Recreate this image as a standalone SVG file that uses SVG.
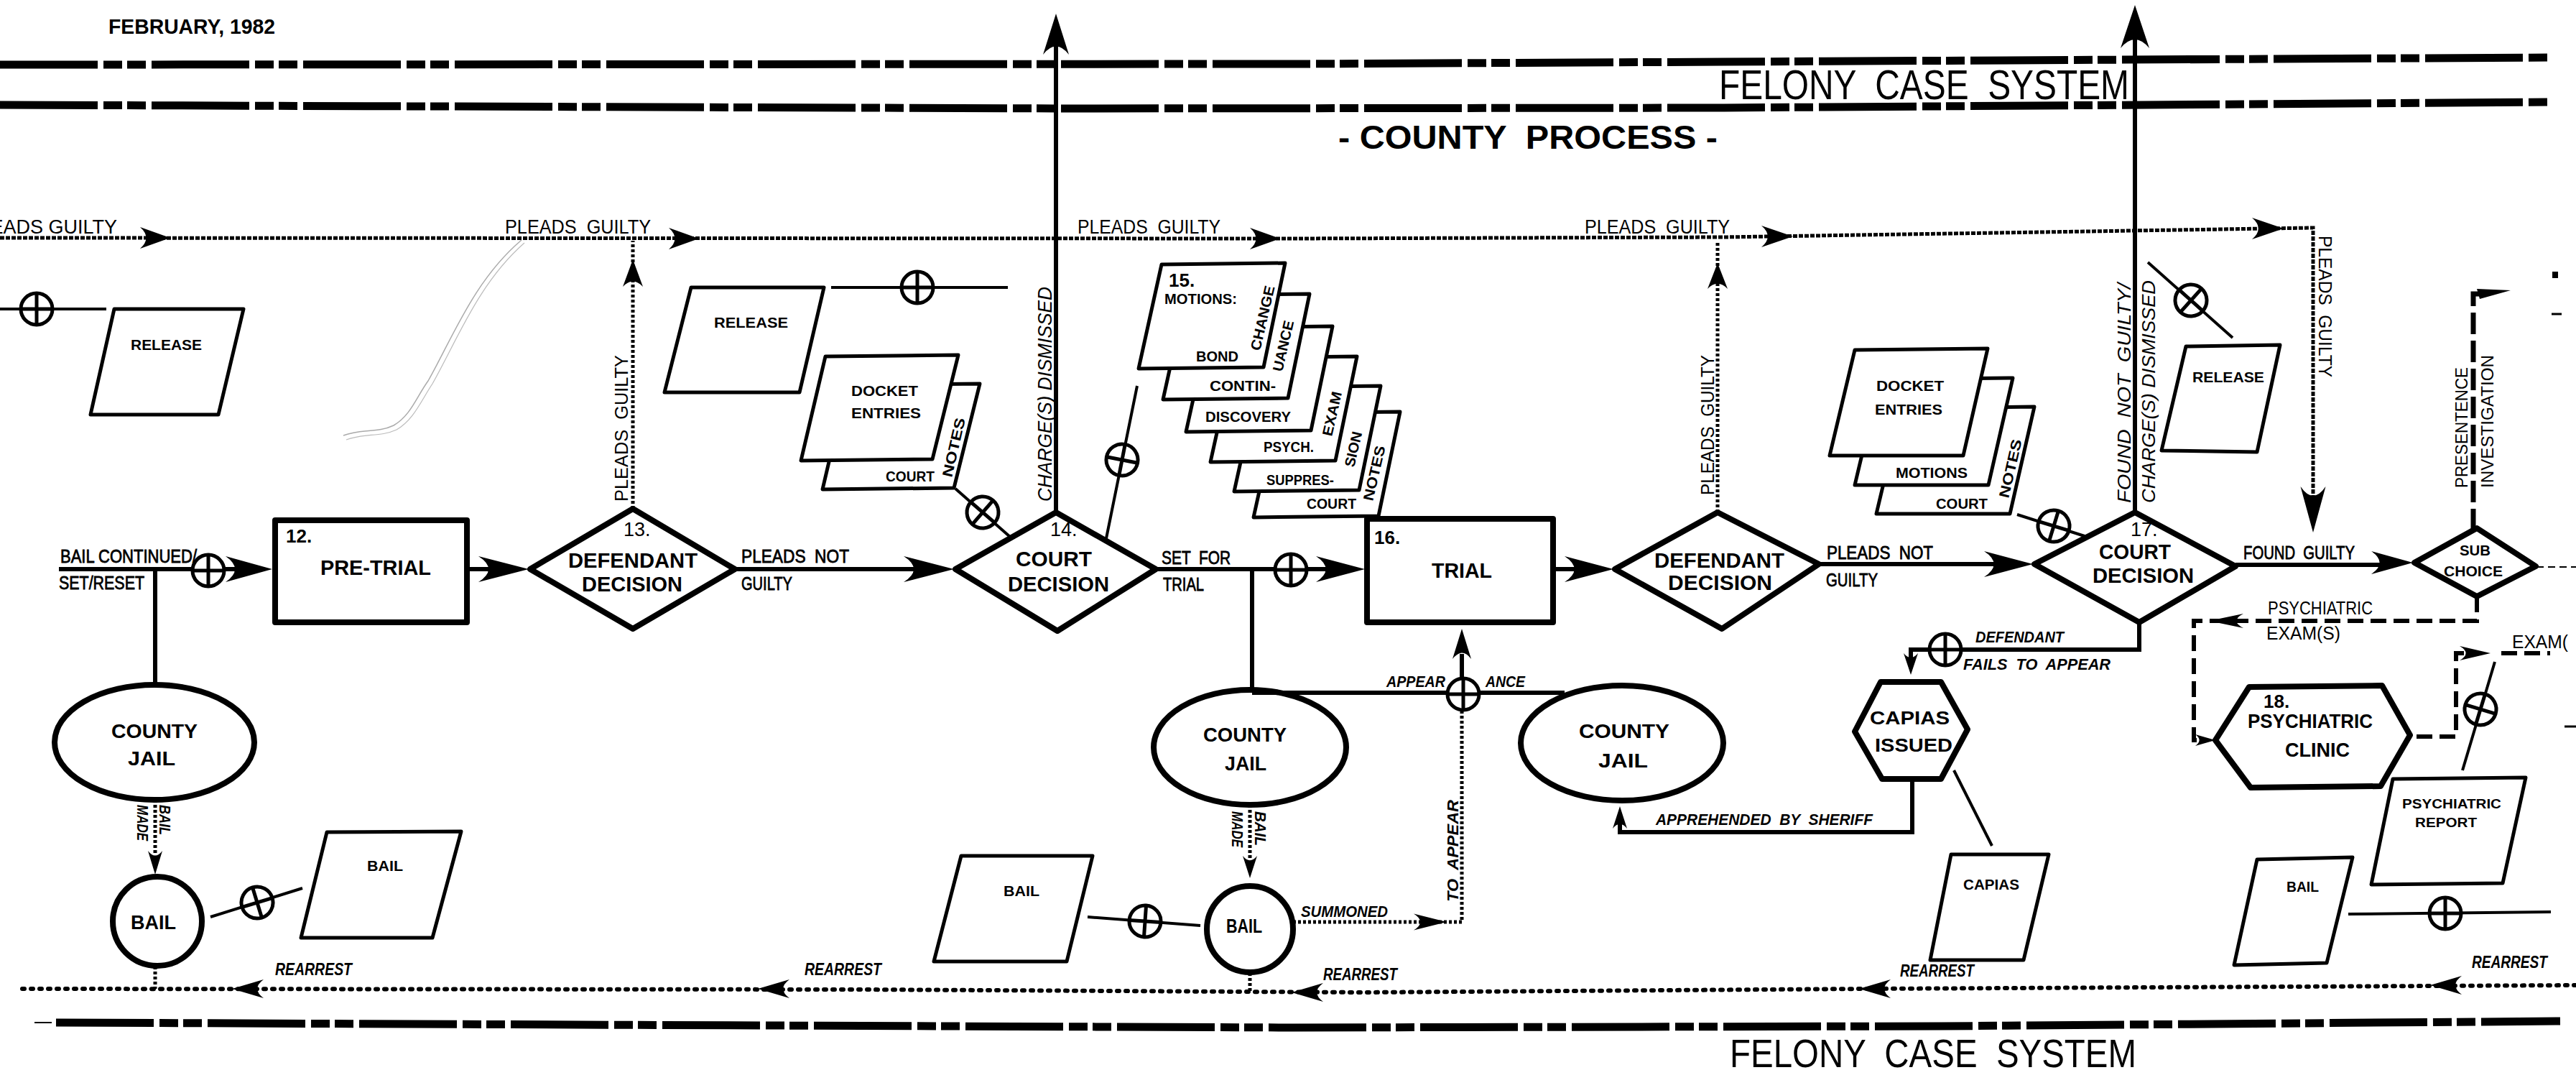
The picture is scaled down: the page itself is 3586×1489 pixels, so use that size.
<svg xmlns="http://www.w3.org/2000/svg" width="3586" height="1489" viewBox="0 0 3586 1489">
<style>
text{font-family:"Liberation Sans",Arial,sans-serif;fill:#000}
.b{font-weight:bold}
.i{font-style:italic;font-weight:bold}
.ir{font-style:italic}
.m{stroke:#000;stroke-width:0.8}
.n{fill:#fff;stroke:#000;stroke-width:8;stroke-linejoin:round}
.p{fill:#fff;stroke:#000;stroke-width:5;stroke-linejoin:round}
.s{fill:none;stroke:#000;stroke-width:6}
.t{fill:none;stroke:#000;stroke-width:4}
.dl{fill:none;stroke:#000;stroke-width:11;stroke-dasharray:136 8 26 7 26 8}
.pg{fill:none;stroke:#000;stroke-width:5;stroke-dasharray:6 2}
.dt{fill:none;stroke:#000;stroke-width:5;stroke-dasharray:4 3}
.ra{fill:none;stroke:#000;stroke-width:6;stroke-linecap:round;stroke-dasharray:3 9}
.ds{fill:none;stroke:#000;stroke-width:6;stroke-dasharray:22 10}
</style>
<defs>
<path id="ah" d="M0,0 L-1,-0.5 Q-0.6,0 -1,0.5 Z"/>
<g id="op"><circle r="22" fill="#fff" stroke="#000" stroke-width="5"/><path d="M-22,0H22M0,-22V22" stroke="#000" stroke-width="5"/></g>
</defs>
<rect width="3586" height="1489" fill="#fff"/>

<g id="frame">
<path class="dl" d="M0,90 L1800,89 L2400,86 L3552,80"/>
<path class="dl" d="M0,146 L1500,151 L2400,150 L3552,142"/>
<path class="dl" d="M78,1423 L1800,1430 L2700,1428 L3564,1421"/>
<path d="M48,1423 H72" stroke="#000" stroke-width="2"/>
<text class="b" x="151" y="47" font-size="30" textLength="232" lengthAdjust="spacingAndGlyphs">FEBRUARY, 1982</text>
<text x="2393" y="138" font-size="57" textLength="571" lengthAdjust="spacingAndGlyphs" xml:space="preserve">FELONY  CASE  SYSTEM</text>
<text class="b" x="1863" y="207" font-size="47" textLength="528" lengthAdjust="spacingAndGlyphs" xml:space="preserve">- COUNTY  PROCESS -</text>
<text x="2408" y="1485" font-size="55" textLength="566" lengthAdjust="spacingAndGlyphs" xml:space="preserve">FELONY  CASE  SYSTEM</text>
<path d="M478,606 C505,596 525,603 548,592 C572,578 580,552 596,530 C630,470 660,390 726,334" fill="none" stroke="#aaa" stroke-width="1.5"/>
<path d="M482,612 C508,602 528,609 552,598 C576,584 586,558 602,534 C636,474 666,394 730,338" fill="none" stroke="#bbb" stroke-width="1.2"/>
<rect x="3553" y="378" width="8" height="9"/>
<path d="M3552,437 H3566 M3570,1011 H3586" stroke="#000" stroke-width="3"/>
</g>

<g id="n12"><rect class="n" x="383" y="724" width="267" height="142"/>
<text class="b" x="398" y="755" font-size="26">12.</text>
<text class="b" x="446" y="800" font-size="29" textLength="154" lengthAdjust="spacingAndGlyphs">PRE-TRIAL</text></g>

<g id="n13"><polygon class="n" points="738,792 881,708 1023,792 881,875"/>
<text x="868" y="746" font-size="27">13.</text>
<text class="b" x="791" y="790" font-size="29" textLength="180" lengthAdjust="spacingAndGlyphs">DEFENDANT</text>
<text class="b" x="810" y="823" font-size="29" textLength="140" lengthAdjust="spacingAndGlyphs">DECISION</text></g>

<g id="n14"><polygon class="n" points="1330,792 1470,713 1609,792 1472,878"/>
<text x="1462" y="746" font-size="27">14.</text>
<text class="b" x="1414" y="788" font-size="30" textLength="106" lengthAdjust="spacingAndGlyphs">COURT</text>
<text class="b" x="1403" y="823" font-size="30" textLength="141" lengthAdjust="spacingAndGlyphs">DECISION</text></g>

<g id="n16"><rect class="n" x="1903" y="722" width="259" height="144"/>
<text class="b" x="1913" y="757" font-size="26">16.</text>
<text class="b" x="1993" y="804" font-size="29" textLength="84" lengthAdjust="spacingAndGlyphs">TRIAL</text></g>

<g id="n16b"><polygon class="n" points="2248,792 2391,713 2532,785 2397,875"/>
<text class="b" x="2303" y="790" font-size="29" textLength="181" lengthAdjust="spacingAndGlyphs">DEFENDANT</text>
<text class="b" x="2322" y="821" font-size="29" textLength="145" lengthAdjust="spacingAndGlyphs">DECISION</text></g>

<g id="n17"><polygon class="n" points="2832,785 2972,713 3112,788 2978,866"/>
<text x="2966" y="746" font-size="27">17.</text>
<text class="b" x="2922" y="778" font-size="30" textLength="100" lengthAdjust="spacingAndGlyphs">COURT</text>
<text class="b" x="2913" y="811" font-size="30" textLength="141" lengthAdjust="spacingAndGlyphs">DECISION</text></g>

<g id="subchoice"><polygon class="n" points="3361,783 3448,735 3530,788 3448,830" stroke-width="7"/>
<text class="b" x="3424" y="773" font-size="20" textLength="43" lengthAdjust="spacingAndGlyphs">SUB</text>
<text class="b" x="3402" y="802" font-size="20" textLength="82" lengthAdjust="spacingAndGlyphs">CHOICE</text></g>

<g id="jail1"><ellipse class="n" cx="215" cy="1033" rx="139" ry="80"/>
<text class="b" x="155" y="1027" font-size="27" textLength="120" lengthAdjust="spacingAndGlyphs">COUNTY</text>
<text class="b" x="178" y="1065" font-size="27" textLength="66" lengthAdjust="spacingAndGlyphs">JAIL</text></g>

<g id="jail2"><ellipse class="n" cx="1740" cy="1040" rx="134" ry="80"/>
<text class="b" x="1675" y="1032" font-size="27" textLength="116" lengthAdjust="spacingAndGlyphs">COUNTY</text>
<text class="b" x="1705" y="1072" font-size="27" textLength="58" lengthAdjust="spacingAndGlyphs">JAIL</text></g>

<g id="jail3"><ellipse class="n" cx="2258" cy="1034" rx="141" ry="80"/>
<text class="b" x="2198" y="1027" font-size="27" textLength="126" lengthAdjust="spacingAndGlyphs">COUNTY</text>
<text class="b" x="2225" y="1068" font-size="27" textLength="69" lengthAdjust="spacingAndGlyphs">JAIL</text></g>

<g id="bail1"><circle class="n" cx="219" cy="1282" r="62"/>
<text class="b" x="182" y="1293" font-size="28" textLength="63" lengthAdjust="spacingAndGlyphs">BAIL</text></g>

<g id="bail2"><circle class="n" cx="1740" cy="1293" r="60"/>
<text class="b" x="1707" y="1298" font-size="28" textLength="50" lengthAdjust="spacingAndGlyphs">BAIL</text></g>

<g id="capias-issued"><polygon class="n" points="2618,949 2702,949 2739,1015 2702,1084 2620,1084 2582,1018"/>
<text class="b" x="2603" y="1008" font-size="25" textLength="111" lengthAdjust="spacingAndGlyphs">CAPIAS</text>
<text class="b" x="2610" y="1046" font-size="25" textLength="108" lengthAdjust="spacingAndGlyphs">ISSUED</text></g>

<g id="n18"><polygon class="n" points="3084,1030 3131,956 3316,954 3355,1023 3314,1094 3133,1096"/>
<text class="b" x="3151" y="985" font-size="26">18.</text>
<text class="b" x="3129" y="1013" font-size="28" textLength="174" lengthAdjust="spacingAndGlyphs">PSYCHIATRIC</text>
<text class="b" x="3181" y="1053" font-size="28" textLength="90" lengthAdjust="spacingAndGlyphs">CLINIC</text></g>

<g id="release1"><polygon class="p" points="159,430 339,430 304,577 126,577"/>
<text class="b" x="182" y="487" font-size="20" textLength="99" lengthAdjust="spacingAndGlyphs">RELEASE</text></g>
<g id="release2"><polygon class="p" points="962,400 1147,400 1113,546 925,546"/>
<text class="b" x="994" y="456" font-size="20" textLength="103" lengthAdjust="spacingAndGlyphs">RELEASE</text></g>
<g id="release3"><polygon class="p" points="3043,482 3174,480 3142,629 3009,627"/>
<text class="b" x="3052" y="532" font-size="20" textLength="100" lengthAdjust="spacingAndGlyphs">RELEASE</text></g>

<g id="bailform1"><polygon class="p" points="455,1158 642,1157 602,1305 419,1305"/>
<text class="b" x="511" y="1212" font-size="20" textLength="50" lengthAdjust="spacingAndGlyphs">BAIL</text></g>
<g id="bailform2"><polygon class="p" points="1338,1191 1521,1191 1485,1338 1300,1338"/>
<text class="b" x="1397" y="1247" font-size="20" textLength="50" lengthAdjust="spacingAndGlyphs">BAIL</text></g>
<g id="bailform3"><polygon class="p" points="3142,1196 3275,1193 3239,1340 3110,1343"/>
<text class="b" x="3183" y="1241" font-size="20" textLength="45" lengthAdjust="spacingAndGlyphs">BAIL</text></g>

<g id="capias"><polygon class="p" points="2716,1189 2852,1189 2817,1336 2687,1336"/>
<text class="b" x="2733" y="1238" font-size="20" textLength="78" lengthAdjust="spacingAndGlyphs">CAPIAS</text></g>

<g id="psych-report"><polygon class="p" points="3331,1084 3516,1082 3484,1229 3301,1231"/>
<text class="b" x="3344" y="1125" font-size="18" textLength="138" lengthAdjust="spacingAndGlyphs">PSYCHIATRIC</text>
<text class="b" x="3362" y="1151" font-size="18" textLength="86" lengthAdjust="spacingAndGlyphs">REPORT</text></g>

<g id="docket1">
<polygon class="p" points="1179,536 1364,534 1328,679 1145,681"/>
<polygon class="p" points="1149,496 1334,494 1298,639 1115,641"/>
<text class="b" x="1185" y="551" font-size="20" textLength="93" lengthAdjust="spacingAndGlyphs">DOCKET</text>
<text class="b" x="1185" y="582" font-size="20" textLength="97" lengthAdjust="spacingAndGlyphs">ENTRIES</text>
<text class="b" x="1233" y="670" font-size="20" textLength="68" lengthAdjust="spacingAndGlyphs">COURT</text>
<text class="b" transform="translate(1325,665) rotate(-77)" font-size="20" textLength="84" lengthAdjust="spacingAndGlyphs">NOTES</text>
</g>

<g id="n15">
<polygon class="p" points="1777,575 1949,573 1919,718 1745,720"/>
<polygon class="p" points="1750,539 1922,537 1892,682 1718,684"/>
<polygon class="p" points="1717,498 1889,496 1859,641 1685,643"/>
<polygon class="p" points="1683,456 1855,454 1825,599 1651,601"/>
<polygon class="p" points="1651,411 1823,409 1793,554 1619,556"/>
<polygon class="p" points="1617,368 1789,366 1759,511 1585,513"/>
<text class="b" x="1627" y="399" font-size="26">15.</text>
<text class="b" x="1621" y="423" font-size="20" textLength="101" lengthAdjust="spacingAndGlyphs">MOTIONS:</text>
<text class="b" x="1665" y="503" font-size="20" textLength="59" lengthAdjust="spacingAndGlyphs">BOND</text>
<text class="b" transform="translate(1754,489) rotate(-77)" font-size="20" textLength="92" lengthAdjust="spacingAndGlyphs">CHANGE</text>
<text class="b" x="1684" y="544" font-size="20" textLength="92" lengthAdjust="spacingAndGlyphs">CONTIN-</text>
<text class="b" transform="translate(1785,518) rotate(-77)" font-size="20" textLength="72" lengthAdjust="spacingAndGlyphs">UANCE</text>
<text class="b" x="1678" y="587" font-size="20" textLength="119" lengthAdjust="spacingAndGlyphs">DISCOVERY</text>
<text class="b" x="1759" y="629" font-size="20" textLength="70" lengthAdjust="spacingAndGlyphs">PSYCH.</text>
<text class="b" transform="translate(1854,608) rotate(-77)" font-size="20" textLength="63" lengthAdjust="spacingAndGlyphs">EXAM</text>
<text class="b" x="1763" y="675" font-size="20" textLength="94" lengthAdjust="spacingAndGlyphs">SUPPRES-</text>
<text class="b" transform="translate(1885,651) rotate(-77)" font-size="20" textLength="50" lengthAdjust="spacingAndGlyphs">SION</text>
<text class="b" x="1819" y="708" font-size="20" textLength="69" lengthAdjust="spacingAndGlyphs">COURT</text>
<text class="b" transform="translate(1911,698) rotate(-77)" font-size="20" textLength="78" lengthAdjust="spacingAndGlyphs">NOTES</text>
</g>

<g id="docket2">
<polygon class="p" points="2647,568 2832,566 2798,715 2612,715"/>
<polygon class="p" points="2617,528 2802,526 2768,675 2582,675"/>
<polygon class="p" points="2582,487 2767,485 2733,634 2547,634"/>
<text class="b" x="2612" y="544" font-size="20" textLength="94" lengthAdjust="spacingAndGlyphs">DOCKET</text>
<text class="b" x="2610" y="577" font-size="20" textLength="94" lengthAdjust="spacingAndGlyphs">ENTRIES</text>
<text class="b" x="2639" y="665" font-size="20" textLength="100" lengthAdjust="spacingAndGlyphs">MOTIONS</text>
<text class="b" x="2695" y="708" font-size="20" textLength="72" lengthAdjust="spacingAndGlyphs">COURT</text>
<text class="b" transform="translate(2796,694) rotate(-77)" font-size="20" textLength="83" lengthAdjust="spacingAndGlyphs">NOTES</text>
</g>

<g id="connectors">
<path class="pg" d="M0,331 L1800,332 L2400,330 L3220,317 L3220,690"/>
<use href="#ah" transform="translate(237,331) scale(42,30)"/>
<use href="#ah" transform="translate(973,332) scale(42,30)"/>
<use href="#ah" transform="translate(1782,332) scale(42,30)"/>
<use href="#ah" transform="translate(2496,329) scale(44,30)"/>
<use href="#ah" transform="translate(3179,318) scale(44,30)"/>
<use href="#ah" transform="translate(3220,741) rotate(90) scale(64,35)"/>
<path class="dt" d="M881,708 V335"/>
<use href="#ah" transform="translate(881,361) rotate(-90) scale(38,28)"/>
<path class="dt" d="M2391,713 V335"/>
<use href="#ah" transform="translate(2391,366) rotate(-90) scale(36,28)"/>
<path class="s" d="M1470,713 V60"/>
<use href="#ah" transform="translate(1470,19) rotate(-90) scale(57,36)"/>
<path class="s" d="M2972,713 V50"/>
<use href="#ah" transform="translate(2972,7) rotate(-90) scale(60,40)"/>

<path class="s" d="M82,792 H340"/>
<path class="s" d="M216,792 V954"/>
<use href="#op" transform="translate(290,794)"/>
<use href="#ah" transform="translate(379,792) scale(65,36)"/>
<path class="s" d="M650,792 H710"/>
<use href="#ah" transform="translate(736,792) scale(70,36)"/>
<path class="s" d="M1023,792 H1290"/>
<use href="#ah" transform="translate(1328,792) scale(70,36)"/>
<path class="s" d="M1609,792 H1860"/>
<use href="#op" transform="translate(1797,793)"/>
<use href="#ah" transform="translate(1900,792) scale(68,36)"/>
<path class="s" d="M2162,792 H2210"/>
<use href="#ah" transform="translate(2246,792) scale(68,36)"/>
<path class="s" d="M2532,785 H2790"/>
<use href="#ah" transform="translate(2830,785) scale(68,36)"/>
<path class="s" d="M3112,786 H3320"/>
<use href="#ah" transform="translate(3359,783) scale(58,32)"/>

<path class="s" d="M1743,792 V961"/>
<path class="s" d="M1743,964 H2178"/>
<use href="#op" transform="translate(2037,966)"/>
<path class="s" d="M2035,944 V910"/>
<use href="#ah" transform="translate(2035,875) rotate(-90) scale(42,26)"/>

<path class="dt" d="M216,1113 V1190"/>
<use href="#ah" transform="translate(216,1217) rotate(90) scale(33,20)"/>
<path class="dt" d="M1740,1120 V1195"/>
<use href="#ah" transform="translate(1740,1222) rotate(90) scale(31,20)"/>
<path class="dt" d="M216,1345 V1376"/>
<path class="dt" d="M1740,1354 V1380"/>
<path class="dt" d="M1800,1283 H2035 V990"/>
<use href="#ah" transform="translate(2014,1283) scale(46,23)"/>

<path class="ra" d="M31,1376 L1200,1377 L1900,1381 L2600,1376 L3586,1371"/>
<use href="#ah" transform="translate(323,1376) rotate(180) scale(44,26)"/>
<use href="#ah" transform="translate(1055,1376) rotate(180) scale(44,26)"/>
<use href="#ah" transform="translate(1798,1381) rotate(180) scale(44,26)"/>
<use href="#ah" transform="translate(2588,1376) rotate(180) scale(44,26)"/>
<use href="#ah" transform="translate(3383,1371) rotate(180) scale(44,26)"/>

<path class="s" d="M2978,866 V904 H2660 V915"/>
<use href="#op" transform="translate(2708,904)"/>
<use href="#ah" transform="translate(2660,939) rotate(90) scale(30,20)"/>
<path class="s" d="M2662,1084 V1158 H2255 V1145"/>
<use href="#ah" transform="translate(2255,1122) rotate(-90) scale(31,20)"/>
<path class="t" d="M2720,1072 L2773,1177"/>

<path class="t" d="M0,430 H148"/>
<use href="#op" transform="translate(51,430)"/>
<path class="t" d="M1157,400 H1403"/>
<use href="#op" transform="translate(1277,400)"/>
<path class="t" d="M293,1276 L421,1236"/>
<use href="#op" transform="translate(358,1256) rotate(-17)"/>
<path class="t" d="M1514,1276 L1671,1288"/>
<use href="#op" transform="translate(1594,1282) rotate(4)"/>
<path class="t" d="M3269,1272 L3551,1269"/>
<use href="#op" transform="translate(3404,1271)"/>
<path class="t" d="M1330,680 L1406,747"/>
<use href="#op" transform="translate(1368,713) rotate(41)"/>
<path class="t" d="M1583,537 L1539,754"/>
<use href="#op" transform="translate(1562,640) rotate(101)"/>
<path class="t" d="M2808,716 L2905,747"/>
<use href="#op" transform="translate(2859,732) rotate(17)"/>
<path class="t" d="M2990,365 L3108,470"/>
<use href="#op" transform="translate(3050,418) rotate(42)"/>
<path class="t" d="M3473,921 L3428,1072"/>
<use href="#op" transform="translate(3453,987) rotate(107)"/>

<path class="ds" d="M3448,830 V864 H3054 V1030 H3066"/>
<use href="#ah" transform="translate(3075,864) rotate(180) scale(48,20)"/>
<use href="#ah" transform="translate(3084,1030) scale(28,16)"/>
<path class="ds" d="M3364,1025 H3419 V909 H3430"/>
<use href="#ah" transform="translate(3467,909) scale(43,20)"/>
<path class="ds" d="M3482,909 H3550"/>
<path d="M3443,738 V409 H3452" fill="none" stroke="#000" stroke-width="7" stroke-dasharray="30 9"/>
<path d="M3448,402 L3495,404 L3452,416 Z"/>
<path d="M3531,789 H3586" fill="none" stroke="#000" stroke-width="2" stroke-dasharray="10 6"/>
</g>

<g id="labels">
<text x="163" y="325" font-size="27" text-anchor="end">PLEADS GUILTY</text>
<text x="703" y="325" font-size="27" textLength="203" lengthAdjust="spacingAndGlyphs" xml:space="preserve">PLEADS  GUILTY</text>
<text x="1500" y="325" font-size="27" textLength="199" lengthAdjust="spacingAndGlyphs" xml:space="preserve">PLEADS  GUILTY</text>
<text x="2206" y="325" font-size="27" textLength="202" lengthAdjust="spacingAndGlyphs" xml:space="preserve">PLEADS  GUILTY</text>
<text transform="translate(874,698) rotate(-90)" font-size="26" textLength="204" lengthAdjust="spacingAndGlyphs" xml:space="preserve">PLEADS  GUILTY</text>
<text transform="translate(2386,689) rotate(-90)" font-size="26" textLength="195" lengthAdjust="spacingAndGlyphs" xml:space="preserve">PLEADS  GUILTY</text>
<text transform="translate(3228,328) rotate(90)" font-size="26" textLength="197" lengthAdjust="spacingAndGlyphs" xml:space="preserve">PLEADS  GUILTY</text>

<text class="m" x="84" y="783" font-size="25" textLength="190" lengthAdjust="spacingAndGlyphs">BAIL CONTINUED/</text>
<text class="m" x="82" y="820" font-size="25" textLength="119" lengthAdjust="spacingAndGlyphs">SET/RESET</text>
<text class="m" x="1032" y="783" font-size="25" textLength="150" lengthAdjust="spacingAndGlyphs" xml:space="preserve">PLEADS  NOT</text>
<text class="m" x="1032" y="821" font-size="25" textLength="71" lengthAdjust="spacingAndGlyphs">GUILTY</text>
<text class="m" x="1617" y="785" font-size="25" textLength="96" lengthAdjust="spacingAndGlyphs" xml:space="preserve">SET  FOR</text>
<text class="m" x="1619" y="822" font-size="25" textLength="57" lengthAdjust="spacingAndGlyphs">TRIAL</text>
<text class="m" x="2543" y="778" font-size="25" textLength="148" lengthAdjust="spacingAndGlyphs" xml:space="preserve">PLEADS  NOT</text>
<text class="m" x="2542" y="816" font-size="25" textLength="72" lengthAdjust="spacingAndGlyphs">GUILTY</text>
<text class="m" x="3123" y="778" font-size="25" textLength="155" lengthAdjust="spacingAndGlyphs" xml:space="preserve">FOUND  GUILTY</text>

<text class="ir" transform="translate(1464,698) rotate(-90)" font-size="27" textLength="299" lengthAdjust="spacingAndGlyphs">CHARGE(S) DISMISSED</text>
<text class="ir" transform="translate(2966,700) rotate(-90)" font-size="26" textLength="306" lengthAdjust="spacingAndGlyphs" xml:space="preserve">FOUND  NOT  GUILTY/</text>
<text class="ir" transform="translate(3000,700) rotate(-90)" font-size="26" textLength="310" lengthAdjust="spacingAndGlyphs">CHARGE(S) DISMISSED</text>

<text class="i" transform="translate(222,1120) rotate(90)" font-size="22" textLength="42" lengthAdjust="spacingAndGlyphs">BAIL</text>
<text class="i" transform="translate(191,1120) rotate(90)" font-size="22" textLength="50" lengthAdjust="spacingAndGlyphs">MADE</text>
<text class="i" transform="translate(1747,1129) rotate(90)" font-size="22" textLength="48" lengthAdjust="spacingAndGlyphs">BAIL</text>
<text class="i" transform="translate(1715,1129) rotate(90)" font-size="22" textLength="50" lengthAdjust="spacingAndGlyphs">MADE</text>

<text class="i" x="1930" y="956" font-size="22" textLength="82" lengthAdjust="spacingAndGlyphs">APPEAR</text>
<text class="i" x="2068" y="956" font-size="22" textLength="55" lengthAdjust="spacingAndGlyphs">ANCE</text>
<text class="i" transform="translate(2030,1255) rotate(-90)" font-size="22" textLength="142" lengthAdjust="spacingAndGlyphs" xml:space="preserve">TO  APPEAR</text>
<text class="i" x="1811" y="1276" font-size="22" textLength="121" lengthAdjust="spacingAndGlyphs">SUMMONED</text>
<text class="i" x="2305" y="1148" font-size="22" textLength="302" lengthAdjust="spacingAndGlyphs" xml:space="preserve">APPREHENDED  BY  SHERIFF</text>
<text class="i" x="2750" y="894" font-size="22" textLength="123" lengthAdjust="spacingAndGlyphs">DEFENDANT</text>
<text class="i" x="2733" y="932" font-size="22" textLength="205" lengthAdjust="spacingAndGlyphs" xml:space="preserve">FAILS  TO  APPEAR</text>

<text class="i" x="383" y="1357" font-size="23" textLength="107" lengthAdjust="spacingAndGlyphs">REARREST</text>
<text class="i" x="1120" y="1357" font-size="23" textLength="107" lengthAdjust="spacingAndGlyphs">REARREST</text>
<text class="i" x="1842" y="1364" font-size="23" textLength="103" lengthAdjust="spacingAndGlyphs">REARREST</text>
<text class="i" x="2645" y="1359" font-size="23" textLength="103" lengthAdjust="spacingAndGlyphs">REARREST</text>
<text class="i" x="3441" y="1347" font-size="23" textLength="105" lengthAdjust="spacingAndGlyphs">REARREST</text>

<text x="3157" y="855" font-size="25" textLength="146" lengthAdjust="spacingAndGlyphs">PSYCHIATRIC</text>
<text x="3155" y="890" font-size="25" textLength="103" lengthAdjust="spacingAndGlyphs">EXAM(S)</text>
<text x="3497" y="902" font-size="25" textLength="78" lengthAdjust="spacingAndGlyphs">EXAM(</text>
<text transform="translate(3435,679) rotate(-90)" font-size="23" textLength="168" lengthAdjust="spacingAndGlyphs">PRESENTENCE</text>
<text transform="translate(3471,679) rotate(-90)" font-size="23" textLength="185" lengthAdjust="spacingAndGlyphs">INVESTIGATION</text>
</g>
</svg>
